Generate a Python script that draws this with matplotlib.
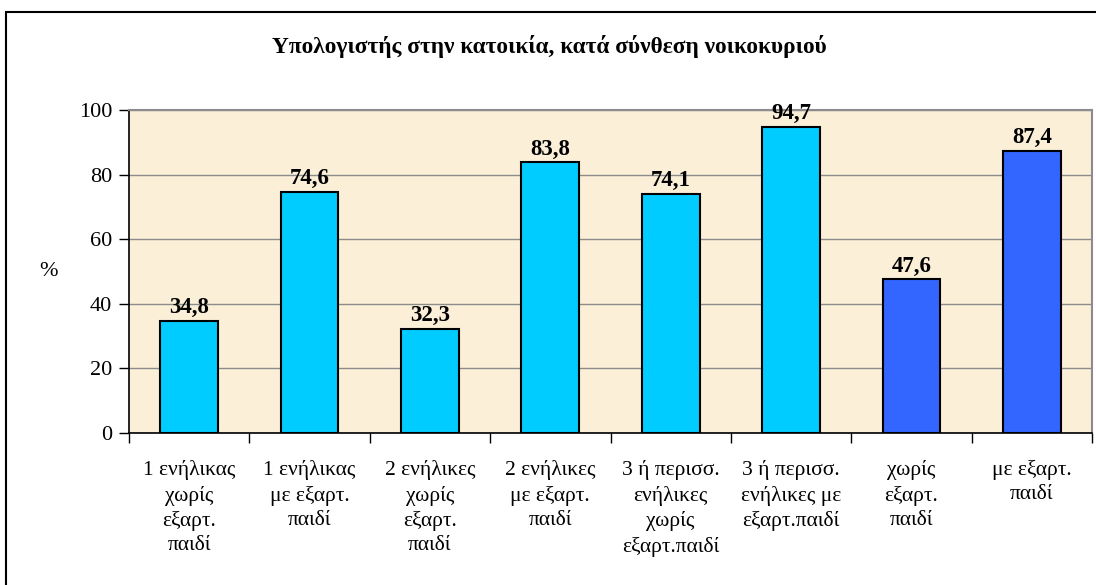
import matplotlib
matplotlib.use("Agg")
import matplotlib.pyplot as plt
from matplotlib.patches import Rectangle

categories = [
    "1 ενήλικας\nχωρίς\nεξαρτ.\nπαιδί",
    "1 ενήλικας\nμε εξαρτ.\nπαιδί",
    "2 ενήλικες\nχωρίς\nεξαρτ.\nπαιδί",
    "2 ενήλικες\nμε εξαρτ.\nπαιδί",
    "3 ή περισσ.\nενήλικες\nχωρίς\nεξαρτ.παιδί",
    "3 ή περισσ.\nενήλικες με\nεξαρτ.παιδί",
    "χωρίς\nεξαρτ.\nπαιδί",
    "με εξαρτ.\nπαιδί",
]
values = [34.8, 74.6, 32.3, 83.8, 74.1, 94.7, 47.6, 87.4]
bar_colors = ["#00CCFF"] * 6 + ["#3366FF"] * 2
title = "Υπολογιστής στην κατοικία, κατά σύνθεση νοικοκυριού"
yticks = [0, 20, 40, 60, 80, 100]

plt.rcParams['font.family'] = ['Liberation Serif', 'DejaVu Serif']

W, H = 1096, 585
fig = plt.figure(figsize=(W / 100, H / 100), dpi=100)
fig.patch.set_facecolor("white")

# outer chart frame
fig.patches.append(Rectangle((6 / W, -0.05), 1.2, 1 - 12 / H + 0.05,
                             transform=fig.transFigure, fill=False,
                             edgecolor="black", linewidth=1.5, zorder=0))

ax = fig.add_axes([129 / W, 1 - 433 / H, (1092 - 129) / W, (433 - 110) / H])
ax.set_facecolor("#FBEFD8")

x = list(range(len(values)))
ax.bar(x, values, width=0.48, color=bar_colors, edgecolor="black",
       linewidth=1.5, zorder=3)
for xi, v in zip(x, values):
    ax.annotate(f"{v:.1f}".replace(".", ","), (xi, v), xytext=(0, 2),
                textcoords="offset points", ha="center", va="bottom",
                fontsize=16.5, fontweight="bold", zorder=4)

ax.set_xlim(-0.5, len(values) - 0.5)
ax.set_ylim(0, 100)
ax.set_yticks(yticks)
ax.set_yticklabels([str(t) for t in yticks], fontsize=16)
ax.yaxis.grid(True, color="#8C8C8C", linewidth=1)
ax.set_axisbelow(True)

# x ticks between categories
ax.set_xticks([i + 0.5 for i in range(-1, len(values))], minor=False)
ax.set_xticklabels([])
ax.tick_params(axis="x", direction="out", length=7, width=1, color="black")
ax.tick_params(axis="y", direction="out", length=7, width=1, color="black", pad=5)

for xi, lab in zip(x, categories):
    ax.text(xi, -0.085, lab, transform=ax.get_xaxis_transform(), ha="center",
            va="top", fontsize=15.5, linespacing=1.36, multialignment="center")

for s in ["top", "right"]:
    ax.spines[s].set_color("#8C8C8C")
    ax.spines[s].set_linewidth(1.5)
for s in ["left", "bottom"]:
    ax.spines[s].set_color("black")
    ax.spines[s].set_linewidth(1.2)

fig.text(49 / W, 1 - 271 / H, "%", ha="center", va="center", fontsize=16)
fig.text(549 / W, 1 - 47 / H, title, ha="center", va="center",
         fontsize=16.8, fontweight="bold")

fig.savefig("out.png", dpi=100)
